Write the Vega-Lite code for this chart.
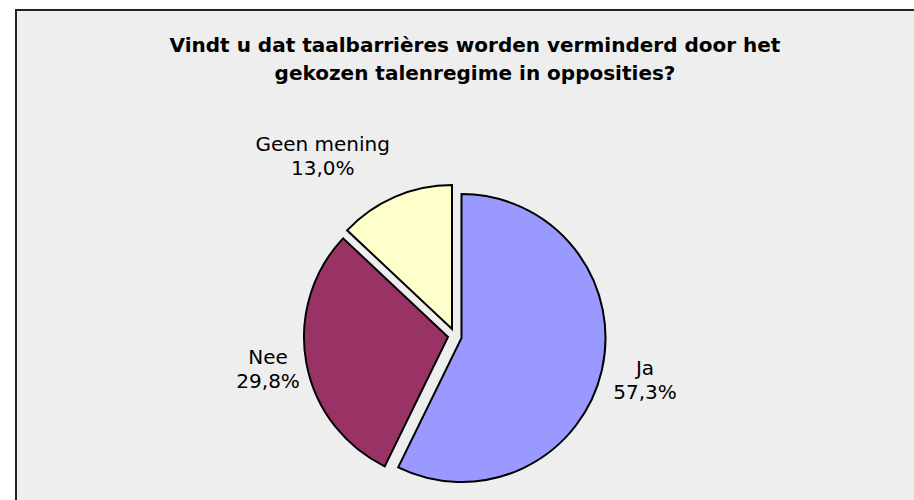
{
  "$schema": "https://vega.github.io/schema/vega-lite/v6.json",
  "width": 900,
  "height": 653,
  "autosize": {"type": "none"},
  "padding": {"left": 16, "top": 10, "right": 0, "bottom": 0},
  "background": "white",
  "view": {"fill": "#eeeeee", "stroke": "#222222", "strokeWidth": 2},
  "title": {
    "text": ["Vindt u dat taalbarrières worden verminderd door het", "gekozen talenregime in opposities?"],
    "font": "DejaVu Sans",
    "fontSize": 20,
    "fontWeight": "bold",
    "color": "black",
    "lineHeight": 28,
    "anchor": "middle",
    "baseline": "top",
    "offset": -74,
    "dx": 9
  },
  "data": {
    "values": [
      {"cat": "Ja", "value": 57.3},
      {"cat": "Nee", "value": 29.8},
      {"cat": "Geen mening", "value": 13.0}
    ]
  },
  "transform": [
    {"window": [{"op": "sum", "field": "value", "as": "v1"}], "frame": [null, 0]},
    {"calculate": "datum.v1 - datum.value", "as": "v0"},
    {"calculate": "(datum.v0 + datum.v1) / 2", "as": "mid"},
    {"calculate": "[datum.cat, replace(format(datum.value, '.1f'), '.', ',') + '%']", "as": "label"}
  ],
  "layer": [
    {
      "transform": [{"filter": "datum.cat === 'Ja'"}],
      "layer": [
        {
          "mark": {"type": "arc", "radius": 144, "stroke": "black", "strokeWidth": 2, "xOffset": -4.5, "yOffset": 1.5},
          "encoding": {
            "theta": {"field": "v0", "type": "quantitative", "scale": {"domain": [0, 100.1], "nice": false}},
            "theta2": {"field": "v1"},
            "color": {"field": "cat", "type": "nominal", "scale": {"domain": ["Ja", "Nee", "Geen mening"], "range": ["#9999FF", "#993366", "#FFFFCC"]}, "legend": null}
          }
        },
        {
          "mark": {"type": "text", "radius": 194, "font": "DejaVu Sans", "fontSize": 20, "lineHeight": 24, "color": "black", "align": "center", "baseline": "middle", "xOffset": -11, "dx": 1, "dy": -11},
          "encoding": {
            "theta": {"field": "mid", "type": "quantitative", "scale": {"domain": [0, 100.1], "nice": false}},
            "text": {"field": "label"}
          }
        }
      ]
    },
    {
      "transform": [{"filter": "datum.cat === 'Nee'"}],
      "layer": [
        {
          "mark": {"type": "arc", "radius": 144, "stroke": "black", "strokeWidth": 2, "xOffset": -18, "yOffset": 0.5},
          "encoding": {
            "theta": {"field": "v0", "type": "quantitative", "scale": {"domain": [0, 100.1], "nice": false}},
            "theta2": {"field": "v1"},
            "color": {"field": "cat", "type": "nominal", "scale": {"domain": ["Ja", "Nee", "Geen mening"], "range": ["#9999FF", "#993366", "#FFFFCC"]}, "legend": null}
          }
        },
        {
          "mark": {"type": "text", "radius": 190, "font": "DejaVu Sans", "fontSize": 20, "lineHeight": 24, "color": "black", "align": "center", "baseline": "middle", "xOffset": -11, "dy": -13},
          "encoding": {
            "theta": {"field": "mid", "type": "quantitative", "scale": {"domain": [0, 100.1], "nice": false}},
            "text": {"field": "label"}
          }
        }
      ]
    },
    {
      "transform": [{"filter": "datum.cat === 'Geen mening'"}],
      "layer": [
        {
          "mark": {"type": "arc", "radius": 144, "stroke": "black", "strokeWidth": 2, "xOffset": -14, "yOffset": -7.5},
          "encoding": {
            "theta": {"field": "v0", "type": "quantitative", "scale": {"domain": [0, 100.1], "nice": false}},
            "theta2": {"field": "v1"},
            "color": {"field": "cat", "type": "nominal", "scale": {"domain": ["Ja", "Nee", "Geen mening"], "range": ["#9999FF", "#993366", "#FFFFCC"]}, "legend": null}
          }
        },
        {
          "mark": {"type": "text", "radius": 220, "font": "DejaVu Sans", "fontSize": 20, "lineHeight": 24, "color": "black", "align": "center", "baseline": "middle", "xOffset": -11, "dx": -45, "dy": 10},
          "encoding": {
            "theta": {"field": "mid", "type": "quantitative", "scale": {"domain": [0, 100.1], "nice": false}},
            "text": {"field": "label"}
          }
        }
      ]
    }
  ]
}
